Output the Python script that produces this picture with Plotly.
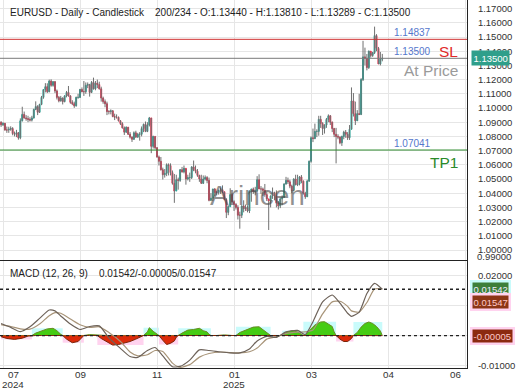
import plotly.graph_objects as go

# ---------------- data (daily bars, 2024-07-19 .. 2025-04-25) ----------------
first_open = 1.0900
closes = [
    # Jul
    1.0882, 1.0892, 1.0845, 1.0845, 1.0850, 1.0856, 1.0820, 1.0815, 1.0826,
    # Aug
    1.0790, 1.0910, 1.0955, 1.0930, 1.0925, 1.0920, 1.0915, 1.0930, 1.0990, 1.1010, 1.0970, 1.1025,
    1.1075, 1.1130, 1.1150, 1.1115, 1.1190, 1.1160, 1.1185, 1.1120, 1.1075, 1.1050,
    # Sep
    1.1070, 1.1045, 1.1085, 1.1110, 1.1085, 1.1040, 1.1030, 1.1015, 1.1075, 1.1075,
    1.1130, 1.1115, 1.1115, 1.1160, 1.1165, 1.1110, 1.1180, 1.1135, 1.1175, 1.1165, 1.1135,
    # Oct
    1.1070, 1.1045, 1.1030, 1.0975, 1.0975, 1.0980, 1.0940, 1.0935, 1.0935, 1.0910, 1.0890, 1.0860,
    1.0830, 1.0865, 1.0815, 1.0795, 1.0780, 1.0825, 1.0795, 1.0815, 1.0815, 1.0855, 1.0885,
    # Nov
    1.0835, 1.0880, 1.0930, 1.0730, 1.0800, 1.0720, 1.0655, 1.0625, 1.0565, 1.0530, 1.0540,
    1.0600, 1.0595, 1.0545, 1.0470, 1.0415, 1.0495, 1.0490, 1.0565, 1.0550, 1.0575,
    # Dec
    1.0500, 1.0510, 1.0510, 1.0585, 1.0565, 1.0555, 1.0525, 1.0500, 1.0470, 1.0500,
    1.0510, 1.0490, 1.0350, 1.0365, 1.0430, 1.0405, 1.0405, 1.0420, 1.0425, 1.0410, 1.0355,
    # Jan
    1.0265, 1.0305, 1.0390, 1.0340, 1.0320, 1.0300, 1.0245, 1.0245, 1.0310, 1.0290, 1.0300,
    1.0275, 1.0415, 1.0430, 1.0410, 1.0415, 1.0495, 1.0430, 1.0430, 1.0420, 1.0390, 1.0360,
    # Feb
    1.0345, 1.0380, 1.0405, 1.0380, 1.0330, 1.0310, 1.0360, 1.0370, 1.0465, 1.0490,
    1.0480, 1.0450, 1.0420, 1.0500, 1.0460, 1.0465, 1.0515, 1.0485, 1.0400, 1.0375,
    # Mar
    1.0485, 1.0625, 1.0790, 1.0785, 1.0835, 1.0835, 1.0920, 1.0890, 1.0855, 1.0880,
    1.0920, 1.0945, 1.0900, 1.0855, 1.0815, 1.0800, 1.0795, 1.0755, 1.0800, 1.0830, 1.0815,
    # Apr
    1.0790, 1.0850, 1.1050, 1.0960, 1.0910, 1.0960, 1.0955, 1.1200, 1.1360,
    1.1350, 1.1285, 1.1400, 1.1370, 1.1390, 1.1510, 1.1420, 1.1310, 1.1344, 1.1350,
]
highs = [
    1.0907, 1.0900, 1.0895, 1.0869, 1.0868, 1.0871, 1.0865, 1.0834, 1.0846,
    1.0830, 1.0927, 1.1009, 1.0975, 1.0950, 1.0945, 1.0935, 1.0945, 1.0995, 1.1047, 1.1020, 1.1030,
    1.1085, 1.1130, 1.1175, 1.1174, 1.1200, 1.1202, 1.1190, 1.1190, 1.1130, 1.1085,
    1.1085, 1.1075, 1.1090, 1.1120, 1.1155, 1.1090, 1.1055, 1.1045, 1.1080, 1.1100,
    1.1135, 1.1145, 1.1190, 1.1180, 1.1180, 1.1170, 1.1190, 1.1214, 1.1190, 1.1200, 1.1185,
    1.1150, 1.1080, 1.1060, 1.1045, 1.0985, 1.0990, 1.0985, 1.0960, 1.0955, 1.0940, 1.0915, 1.0900,
    1.0870, 1.0870, 1.0865, 1.0830, 1.0800, 1.0835, 1.0840, 1.0825, 1.0830, 1.0870, 1.0890,
    1.0905, 1.0900, 1.0937, 1.0930, 1.0805, 1.0800, 1.0725, 1.0665, 1.0655, 1.0580, 1.0570,
    1.0610, 1.0610, 1.0610, 1.0560, 1.0535, 1.0530, 1.0510, 1.0570, 1.0585, 1.0595,
    1.0570, 1.0530, 1.0545, 1.0590, 1.0630, 1.0595, 1.0570, 1.0530, 1.0530, 1.0525,
    1.0525, 1.0520, 1.0510, 1.0400, 1.0430, 1.0435, 1.0415, 1.0425, 1.0440, 1.0455, 1.0410,
    1.0365, 1.0315, 1.0435, 1.0400, 1.0350, 1.0330, 1.0315, 1.0270, 1.0315, 1.0350, 1.0320,
    1.0315, 1.0420, 1.0430, 1.0440, 1.0445, 1.0520, 1.0533, 1.0450, 1.0440, 1.0465, 1.0410,
    1.0345, 1.0385, 1.0440, 1.0410, 1.0420, 1.0345, 1.0370, 1.0385, 1.0470, 1.0515,
    1.0510, 1.0495, 1.0460, 1.0505, 1.0530, 1.0530, 1.0520, 1.0528, 1.0490, 1.0410,
    1.0495, 1.0630, 1.0800, 1.0855, 1.0890, 1.0850, 1.0945, 1.0945, 1.0900, 1.0885,
    1.0930, 1.0955, 1.0950, 1.0905, 1.0860, 1.0860, 1.0815, 1.0800, 1.0805, 1.0840, 1.0845,
    1.0830, 1.0880, 1.1145, 1.1105, 1.1045, 1.0985, 1.1100, 1.1210, 1.1473,
    1.1425, 1.1380, 1.1405, 1.1390, 1.1395, 1.1573, 1.1520, 1.1430, 1.1395, 1.1381,
]
lows = [
    1.0867, 1.0873, 1.0840, 1.0825, 1.0825, 1.0840, 1.0808, 1.0800, 1.0795,
    1.0777, 1.0780, 1.0905, 1.0925, 1.0910, 1.0900, 1.0905, 1.0905, 1.0925, 1.0985, 1.0950, 1.0965,
    1.1020, 1.1065, 1.1110, 1.1105, 1.1110, 1.1150, 1.1150, 1.1105, 1.1060, 1.1040,
    1.1045, 1.1025, 1.1040, 1.1075, 1.1080, 1.1030, 1.1020, 1.1001, 1.1010, 1.1065,
    1.1070, 1.1110, 1.1085, 1.1100, 1.1140, 1.1080, 1.1105, 1.1130, 1.1125, 1.1140, 1.1130,
    1.1045, 1.1030, 1.1005, 1.0950, 1.0955, 1.0955, 1.0935, 1.0915, 1.0925, 1.0905, 1.0880, 1.0855,
    1.0810, 1.0825, 1.0810, 1.0785, 1.0761, 1.0775, 1.0790, 1.0790, 1.0770, 1.0800, 1.0830,
    1.0830, 1.0830, 1.0870, 1.0682, 1.0715, 1.0710, 1.0650, 1.0595, 1.0560, 1.0496, 1.0510,
    1.0520, 1.0525, 1.0525, 1.0460, 1.0332, 1.0425, 1.0425, 1.0480, 1.0545, 1.0540,
    1.0460, 1.0490, 1.0480, 1.0500, 1.0555, 1.0540, 1.0515, 1.0480, 1.0465, 1.0465,
    1.0490, 1.0470, 1.0343, 1.0345, 1.0345, 1.0380, 1.0385, 1.0390, 1.0395, 1.0400, 1.0350,
    1.0225, 1.0245, 1.0315, 1.0335, 1.0275, 1.0285, 1.0215, 1.0150, 1.0225, 1.0265, 1.0275,
    1.0265, 1.0260, 1.0340, 1.0395, 1.0385, 1.0410, 1.0430, 1.0395, 1.0380, 1.0375, 1.0345,
    1.0141, 1.0300, 1.0360, 1.0350, 1.0300, 1.0285, 1.0295, 1.0315, 1.0370, 1.0460,
    1.0465, 1.0435, 1.0400, 1.0415, 1.0455, 1.0450, 1.0455, 1.0470, 1.0390, 1.0360,
    1.0375, 1.0480, 1.0615, 1.0760, 1.0780, 1.0795, 1.0805, 1.0860, 1.0810, 1.0820,
    1.0860, 1.0900, 1.0880, 1.0830, 1.0795, 1.0610, 1.0780, 1.0745, 1.0733, 1.0780, 1.0790,
    1.0775, 1.0775, 1.0850, 1.0940, 1.0880, 1.0910, 1.0950, 1.0950, 1.1190,
    1.1300, 1.1265, 1.1275, 1.1355, 1.1360, 1.1380, 1.1400, 1.1310, 1.1300, 1.13289,
]
opens = [first_open] + closes[:-1]
opens[-1] = 1.13440

# MACD panel values (bar index, value)
macd_idx = [0, 5, 10, 15, 20, 25, 28, 31, 36, 41, 46, 51, 56, 62, 67, 71, 76, 80, 84, 89, 93, 98,
            103, 108, 114, 119, 124, 129, 133, 138, 143, 148, 154, 158, 162, 167, 172, 176, 180,
            182, 186, 190, 194, 198]
macd_line = [0.0040, 0.0027, 0.0013, 0.0029, 0.0057, 0.0085, 0.0082, 0.0065, 0.0038, 0.0020,
             0.0030, 0.0032, -0.0008, -0.0043, -0.0070, -0.0073, -0.0050, -0.0040, -0.0068, -0.0104,
             -0.0103, -0.0082, -0.0048, -0.0050, -0.0055, -0.0058, -0.0058, -0.0045, -0.0018, -0.0003,
             -0.0006, 0.0012, 0.0017, 0.0003, 0.0046, 0.0112, 0.0135, 0.0108, 0.0074, 0.0064,
             0.0078, 0.0140, 0.0174, 0.01542]
signal_line = [0.0036, 0.0030, 0.0022, 0.0021, 0.0038, 0.0066, 0.0076, 0.0074, 0.0055, 0.0036,
               0.0027, 0.0029, 0.0010, -0.0020, -0.0055, -0.0068, -0.0064, -0.0050, -0.0053, -0.0092,
               -0.0106, -0.0097, -0.0072, -0.0060, -0.0055, -0.0057, -0.0058, -0.0054, -0.0042, -0.0012,
               -0.0004, 0.0006, 0.0011, 0.0012, 0.0018, 0.0072, 0.0112, 0.0114, 0.0097, 0.0082,
               0.0078, 0.0110, 0.0155, 0.01547]
hist_idx = [0, 3, 7, 11, 14, 16, 18, 21, 24, 27, 29, 31, 32, 34, 37, 40, 42, 43, 46, 49, 50,
            52, 55, 58, 61, 64, 67, 70, 73, 74, 76, 77, 79, 81, 82, 84, 86, 88, 90, 91, 92,
            94, 97, 100, 103, 105, 107, 108, 109, 112, 116, 120, 122, 124, 128, 131, 134, 136,
            139, 140, 143, 146, 148, 151, 154, 156, 157, 158, 160, 163, 166, 168, 170, 172, 173,
            174, 176, 178, 180, 182, 183, 185, 187, 189, 191, 193, 195, 197, 198]
hist_val = [-0.0004, -0.0010, -0.0013, -0.0009, -0.0002, 0, 0.0008, 0.0016, 0.0022, 0.0024,
            0.0016, 0.0004, 0, -0.0012, -0.0024, -0.0020, -0.0006, 0, 0.0003, 0.0002, 0,
            -0.0010, -0.0022, -0.0032, -0.0030, -0.0026, -0.0020, -0.0012, -0.0004, 0,
            0.0012, 0.0026, 0.0014, 0.0004, 0, -0.0016, -0.0030, -0.0026, -0.0018, -0.0006, 0,
            0.0008, 0.0018, 0.0020, 0.0024, 0.0016, 0.0012, 0.0004, 0, -0.0002, 0.0002, -0.0001, 0,
            0.0010, 0.0020, 0.0028, 0.0029, 0.0020, 0.0006, 0, -0.0002, 0,
            0.0010, 0.0016, 0.0012, 0.0003, 0, 0.0003, 0.0015, 0.0035, 0.0045, 0.0046, 0.0038,
            0.0030, 0.0012, 0, -0.0012, -0.0020, -0.0020, -0.0010, 0,
            0.0010, 0.0028, 0.0040, 0.0045, 0.0040, 0.0030, 0.0015, -0.00005]

# levels
sl_level = 1.14837
price_level = 1.13500
tp_level = 1.07041
macd_last, hist_last, signal_last = 0.01542, -0.00005, 0.01547

# axis ticks
grid_idx = [1, 41, 81, 121, 161, 201, 241]
month_labels = ["07", "09", "11", "01", "03", "04", "06"]
year_labels = {0: "2024", 3: "2025"}
price_ticks = [round(1.00 + 0.01 * k, 2) for k in range(18)]
macd_ticks = [-0.01, 0.0, 0.01, 0.02]
macd_ticktext = ["-0.01000", "", "", "0.02000"]

UP, DN = "#26a69a", "#e5304e"
FONT = "Liberation Sans, Arial, sans-serif"

idx = list(range(len(closes)))
fig = go.Figure()

# wicks
wx, wy = [], []
for i, h, l in zip(idx, highs, lows):
    wx += [i, i, None]
    wy += [l, h, None]
fig.add_trace(go.Scatter(x=wx, y=wy, mode="lines", line=dict(color="#707070", width=1),
                         hoverinfo="skip", xaxis="x", yaxis="y"))
# bodies
fig.add_trace(go.Candlestick(
    x=idx, open=opens, close=closes,
    high=[max(o, c) for o, c in zip(opens, closes)],
    low=[min(o, c) for o, c in zip(opens, closes)],
    increasing=dict(line=dict(color=UP, width=1), fillcolor=UP),
    decreasing=dict(line=dict(color=DN, width=1), fillcolor=DN),
    whiskerwidth=0, xaxis="x", yaxis="y", hoverinfo="skip"))

# MACD histogram backgrounds (bounding boxes of each run)
shapes = []
start = 0
for k in range(1, len(hist_val)):
    if hist_val[k] == 0 or k == len(hist_val) - 1:
        seg = hist_val[start:k + 1]
        peak = max(seg, key=abs)
        if abs(peak) >= 0.0005:
            shapes.append(dict(type="rect", xref="x2", yref="y2", x0=hist_idx[start], x1=hist_idx[k],
                               y0=0, y1=peak, fillcolor="#c9fbfb" if peak > 0 else "#ffd3ef",
                               line=dict(width=0), layer="below"))
        start = k

fig.add_trace(go.Scatter(x=hist_idx, y=[max(v, 0) for v in hist_val], mode="lines", fill="tozeroy",
                         fillcolor="#45cc14", line=dict(color="#6a8a20", width=1),
                         xaxis="x2", yaxis="y2", hoverinfo="skip"))
fig.add_trace(go.Scatter(x=hist_idx, y=[min(v, 0) for v in hist_val], mode="lines", fill="tozeroy",
                         fillcolor="#dc2a0a", line=dict(color="#7a2608", width=1),
                         xaxis="x2", yaxis="y2", hoverinfo="skip"))
fig.add_trace(go.Scatter(x=macd_idx, y=signal_line, mode="lines",
                         line=dict(color="#a89478", width=1.2, shape="spline", smoothing=0.6),
                         xaxis="x2", yaxis="y2", hoverinfo="skip"))
fig.add_trace(go.Scatter(x=macd_idx, y=macd_line, mode="lines",
                         line=dict(color="#6d6259", width=1.2, shape="spline", smoothing=0.6),
                         xaxis="x2", yaxis="y2", hoverinfo="skip"))

# level lines
shapes += [
    dict(type="line", xref="x domain", yref="y", x0=0, x1=1, y0=sl_level, y1=sl_level,
         line=dict(color="#d03030", width=1)),
    dict(type="line", xref="x domain", yref="y", x0=0, x1=1, y0=price_level, y1=price_level,
         line=dict(color="#7a7a7a", width=1)),
    dict(type="line", xref="x domain", yref="y", x0=0, x1=1, y0=tp_level, y1=tp_level,
         line=dict(color="#2e8b2e", width=1)),
    dict(type="line", xref="x2 domain", yref="y2", x0=0, x1=1, y0=macd_last, y1=macd_last,
         line=dict(color="#222", width=1.3, dash="dot")),
    dict(type="line", xref="x2 domain", yref="y2", x0=0, x1=1, y0=hist_last, y1=hist_last,
         line=dict(color="#222", width=1.3, dash="dot")),
]

PLOT_W, PLOT_H = 467.0, 368.0
def px(x):
    return x / PLOT_W
def py(y):
    return (PLOT_H - y) / PLOT_H

ann = []
ann.append(dict(text="EURUSD - Daily - Candlestick    200/234 - O:1.13440 - H:1.13810 - L:1.13289 - C:1.13500",
                xref="paper", yref="paper", x=px(8), y=py(12.5), xanchor="left", yanchor="middle",
                showarrow=False, font=dict(size=10, color="#222")))
ann.append(dict(text="MACD (12, 26, 9)    %.5f/%.5f/%.5f" % (macd_last, hist_last, signal_last),
                xref="paper", yref="paper", x=px(8), y=py(273.5), xanchor="left", yanchor="middle",
                showarrow=False, font=dict(size=10, color="#222")))
# level labels
for lvl, color, tag, tagcolor in [(sl_level, "#d03030", "SL", "#e02a2a"),
                                  (price_level, "#888", "At Price", "#9a9a9a"),
                                  (tp_level, "#2e8b2e", "TP1", "#2a8a2a")]:
    ann.append(dict(text="%.5f" % lvl, xref="paper", yref="y", x=px(392), y=lvl, yshift=7,
                    xanchor="left", yanchor="middle", showarrow=False,
                    font=dict(size=10, color="#5577cc")))
    ann.append(dict(text=tag, xref="paper", yref="y", x=px(460), y=lvl, yshift=-12.5,
                    xanchor="right", yanchor="middle", showarrow=False,
                    font=dict(size=15.5, color=tagcolor)))
# price box
ann.append(dict(text="%.5f" % price_level, xref="paper", yref="y", x=1 + px(4), y=price_level,
                xanchor="left", yanchor="middle", showarrow=False, bgcolor="#2f9f8b",
                borderpad=1.5, font=dict(size=9.5, color="white")))
ann.append(dict(text="0.99000", xref="paper", yref="paper", x=1 + px(8), y=py(256.5),
                xanchor="left", yanchor="middle", showarrow=False, font=dict(size=9.5, color="#333")))
# MACD boxes
ann.append(dict(text="%.5f" % macd_last, xref="paper", yref="y2", x=1 + px(3), y=macd_last,
                xanchor="left", yanchor="middle", showarrow=False, bgcolor="#3d7f3a",
                bordercolor="#c9fbfb", borderwidth=2.5, borderpad=1, font=dict(size=9.5, color="#eef")))
ann.append(dict(text="%.5f" % signal_last, xref="paper", yref="y2", x=1 + px(3), y=macd_last, yshift=-12.5,
                xanchor="left", yanchor="middle", showarrow=False, bgcolor="#8c3516",
                bordercolor="#ffd3ef", borderwidth=2.5, borderpad=1, font=dict(size=9.5, color="#ffc8c8")))
ann.append(dict(text="%.5f" % hist_last, xref="paper", yref="y2", x=1 + px(3), y=hist_last,
                xanchor="left", yanchor="middle", showarrow=False, bgcolor="#8c2a10",
                bordercolor="#ffd3ef", borderwidth=2.5, borderpad=1, font=dict(size=9.5, color="#ffc8c8")))
# watermark
ann.append(dict(text="Arincen", xref="paper", yref="paper", x=px(257), y=py(195), xanchor="center",
                yanchor="middle", showarrow=False, font=dict(size=28, color="rgba(70,70,70,0.6)")))
# date labels
for k, (g, lab) in enumerate(zip(grid_idx, month_labels)):
    if k == 0:
        xs = 10
    elif k == len(grid_idx) - 1:
        xs = -10
    else:
        xs = 0
    ann.append(dict(text=lab, xref="x2", yref="paper", x=g, xshift=xs, y=py(374.5), xanchor="center",
                    yanchor="middle", showarrow=False, font=dict(size=9.8, color="#333")))
    if k in year_labels:
        ann.append(dict(text=year_labels[k], xref="x2", yref="paper", x=g, xshift=xs, y=py(384),
                        xanchor="center", yanchor="middle", showarrow=False,
                        font=dict(size=9.8, color="#333")))

xr = [-0.56, 242.0]
common_x = dict(range=xr, tickvals=grid_idx, showticklabels=False, showgrid=True, gridcolor="#e6e6e6",
                zeroline=False, showline=True, linecolor="#222", linewidth=1, ticks="")
fig.update_layout(
    width=520, height=390, margin=dict(l=0, r=53, t=0, b=22, autoexpand=False),
    paper_bgcolor="white", plot_bgcolor="white", showlegend=False,
    font=dict(family=FONT, color="#333"),
    xaxis=dict(domain=[0, 1], anchor="y", rangeslider=dict(visible=False), automargin=False, **common_x),
    xaxis2=dict(domain=[0, 1], anchor="y2", matches="x", automargin=False, **common_x),
    yaxis=dict(domain=[0.2935, 1], range=[0.99296, 1.17606], side="right", tickvals=price_ticks,
               ticktext=["%.5f" % t for t in price_ticks], showgrid=True, gridcolor="#e6e6e6",
               zeroline=False, showline=True, linecolor="#222", linewidth=1, ticks="",
               ticklabelstandoff=8, tickfont=dict(size=9.5, color="#333"), automargin=False),
    yaxis2=dict(domain=[0, 0.2908], range=[-0.01083, 0.02483], side="right", tickvals=macd_ticks,
                ticktext=macd_ticktext, showgrid=True, gridcolor="#e6e6e6", zeroline=False,
                showline=True, linecolor="#222", linewidth=1, ticks="", ticklabelstandoff=8,
                tickfont=dict(size=9.5, color="#333"), automargin=False),
    shapes=shapes, annotations=ann,
)
fig.write_html("out.html", config={"displayModeBar": False},
               post_script="document.body.style.margin='0';document.body.style.padding='0';")
